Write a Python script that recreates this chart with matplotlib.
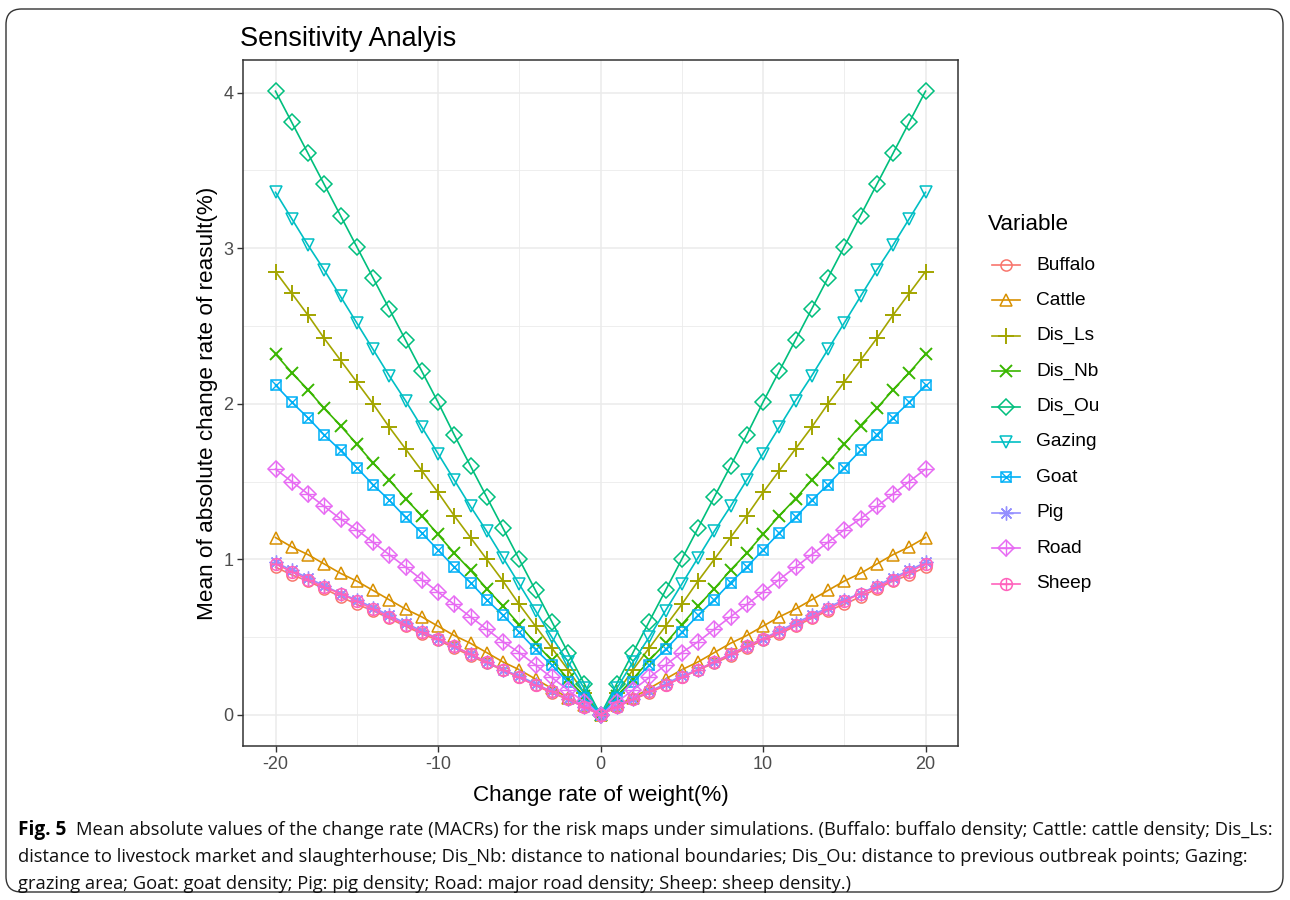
import matplotlib
matplotlib.use("Agg")
import matplotlib.pyplot as plt
from matplotlib.lines import Line2D
from matplotlib.patches import FancyBboxPatch
from matplotlib import font_manager

# ---------------- data ----------------
change_rate = list(range(-20, 21))

variables = ["Buffalo", "Cattle", "Dis_Ls", "Dis_Nb", "Dis_Ou",
             "Gazing", "Goat", "Pig", "Road", "Sheep"]

buffalo = [0.95, 0.90, 0.86, 0.81, 0.76, 0.71, 0.67, 0.62, 0.57, 0.52, 0.48, 0.43, 0.38, 0.33, 0.29, 0.24, 0.19, 0.14, 0.10, 0.05,
           0.00,
           0.05, 0.10, 0.14, 0.19, 0.24, 0.29, 0.33, 0.38, 0.43, 0.48, 0.52, 0.57, 0.62, 0.67, 0.71, 0.76, 0.81, 0.86, 0.90, 0.95]
cattle = [1.14, 1.08, 1.03, 0.97, 0.91, 0.86, 0.80, 0.74, 0.68, 0.63, 0.57, 0.51, 0.46, 0.40, 0.34, 0.29, 0.23, 0.17, 0.11, 0.06,
          0.00,
          0.06, 0.11, 0.17, 0.23, 0.29, 0.34, 0.40, 0.46, 0.51, 0.57, 0.63, 0.68, 0.74, 0.80, 0.86, 0.91, 0.97, 1.03, 1.08, 1.14]
dis_ls = [2.85, 2.71, 2.57, 2.42, 2.28, 2.14, 2.00, 1.85, 1.71, 1.57, 1.43, 1.28, 1.14, 1.00, 0.86, 0.71, 0.57, 0.43, 0.29, 0.14,
          0.00,
          0.14, 0.29, 0.43, 0.57, 0.71, 0.86, 1.00, 1.14, 1.28, 1.43, 1.57, 1.71, 1.85, 2.00, 2.14, 2.28, 2.42, 2.57, 2.71, 2.85]
dis_nb = [2.32, 2.20, 2.09, 1.97, 1.86, 1.74, 1.62, 1.51, 1.39, 1.28, 1.16, 1.04, 0.93, 0.81, 0.70, 0.58, 0.46, 0.35, 0.23, 0.12,
          0.00,
          0.12, 0.23, 0.35, 0.46, 0.58, 0.70, 0.81, 0.93, 1.04, 1.16, 1.28, 1.39, 1.51, 1.62, 1.74, 1.86, 1.97, 2.09, 2.20, 2.32]
dis_ou = [4.01, 3.81, 3.61, 3.41, 3.21, 3.01, 2.81, 2.61, 2.41, 2.21, 2.01, 1.80, 1.60, 1.40, 1.20, 1.00, 0.80, 0.60, 0.40, 0.20,
          0.00,
          0.20, 0.40, 0.60, 0.80, 1.00, 1.20, 1.40, 1.60, 1.80, 2.01, 2.21, 2.41, 2.61, 2.81, 3.01, 3.21, 3.41, 3.61, 3.81, 4.01]
gazing = [3.36, 3.19, 3.02, 2.86, 2.69, 2.52, 2.35, 2.18, 2.02, 1.85, 1.68, 1.51, 1.34, 1.18, 1.01, 0.84, 0.67, 0.50, 0.34, 0.17,
          0.00,
          0.17, 0.34, 0.50, 0.67, 0.84, 1.01, 1.18, 1.34, 1.51, 1.68, 1.85, 2.02, 2.18, 2.35, 2.52, 2.69, 2.86, 3.02, 3.19, 3.36]
goat = [2.12, 2.01, 1.91, 1.80, 1.70, 1.59, 1.48, 1.38, 1.27, 1.17, 1.06, 0.95, 0.85, 0.74, 0.64, 0.53, 0.42, 0.32, 0.21, 0.11,
        0.00,
        0.11, 0.21, 0.32, 0.42, 0.53, 0.64, 0.74, 0.85, 0.95, 1.06, 1.17, 1.27, 1.38, 1.48, 1.59, 1.70, 1.80, 1.91, 2.01, 2.12]
pig = [0.98, 0.93, 0.88, 0.83, 0.78, 0.74, 0.69, 0.64, 0.59, 0.54, 0.49, 0.44, 0.39, 0.34, 0.29, 0.25, 0.20, 0.15, 0.10, 0.05,
       0.00,
       0.05, 0.10, 0.15, 0.20, 0.25, 0.29, 0.34, 0.39, 0.44, 0.49, 0.54, 0.59, 0.64, 0.69, 0.74, 0.78, 0.83, 0.88, 0.93, 0.98]
road = [1.58, 1.50, 1.42, 1.34, 1.26, 1.19, 1.11, 1.03, 0.95, 0.87, 0.79, 0.71, 0.63, 0.55, 0.47, 0.40, 0.32, 0.24, 0.16, 0.08,
        0.00,
        0.08, 0.16, 0.24, 0.32, 0.40, 0.47, 0.55, 0.63, 0.71, 0.79, 0.87, 0.95, 1.03, 1.11, 1.19, 1.26, 1.34, 1.42, 1.50, 1.58]
sheep = [0.97, 0.92, 0.87, 0.82, 0.78, 0.73, 0.68, 0.63, 0.58, 0.53, 0.49, 0.44, 0.39, 0.34, 0.29, 0.24, 0.19, 0.15, 0.10, 0.05,
         0.00,
         0.05, 0.10, 0.15, 0.19, 0.24, 0.29, 0.34, 0.39, 0.44, 0.49, 0.53, 0.58, 0.63, 0.68, 0.73, 0.78, 0.82, 0.87, 0.92, 0.97]

series = [buffalo, cattle, dis_ls, dis_nb, dis_ou, gazing, goat, pig, road, sheep]

x_ticks = [-20, -10, 0, 10, 20]
y_ticks = [0, 1, 2, 3, 4]

title = "Sensitivity Analyis"
x_label = "Change rate of weight(%)"
y_label = "Mean of absolute change rate of reasult(%)"
legend_title = "Variable"
caption_bold = "Fig. 5"
caption_lines = [
    "Mean absolute values of the change rate (MACRs) for the risk maps under simulations. (Buffalo: buffalo density; Cattle: cattle density; Dis_Ls:",
    "distance to livestock market and slaughterhouse; Dis_Nb: distance to national boundaries; Dis_Ou: distance to previous outbreak points; Gazing:",
    "grazing area; Goat: goat density; Pig: pig density; Road: major road density; Sheep: sheep density.)",
]

# ---------------- styles ----------------
colors = ["#F8766D", "#D89000", "#A3A500", "#39B600", "#00BF7D",
          "#00BFC4", "#00B0F6", "#9590FF", "#E76BF3", "#FF62BC"]
# (marker, size, edge width) ; optional second overlay marker
markers = [
    [("o", 8, 1.1)],
    [("^", 9, 1.1)],
    [("+", 12, 1.4)],
    [("x", 8.5, 1.4)],
    [("D", 8, 1.1)],
    [("v", 9, 1.1)],
    [("s", 7.5, 1.1), ("x", 7.0, 1.0)],
    [((8, 2, 0), 10, 1.0)],
    [("D", 8, 1.1), ("+", 11.3, 1.0)],
    [("o", 8.5, 1.1), ("+", 8.5, 1.0)],
]

W, H = 1290, 900


def fx(px):
    return px / W


def fy(py):
    return 1 - py / H


def pick_font(names):
    for n in names:
        try:
            font_manager.findfont(n, fallback_to_default=False)
            return n
        except Exception:
            pass
    return "DejaVu Sans"


main_font = pick_font(["Liberation Sans", "Arial", "DejaVu Sans"])
cap_font = pick_font(["Liberation Sans Narrow", "Open Sans", "Roboto", "Liberation Sans"])
plt.rcParams["font.family"] = [main_font, "DejaVu Sans"]
plt.rcParams["axes.unicode_minus"] = False

fig = plt.figure(figsize=(W / 100, H / 100), dpi=100)
fig.patch.set_facecolor("white")

# outer rounded frame
frame = FancyBboxPatch((fx(6), fy(892)), fx(1283) - fx(6), fy(9) - fy(892),
                       boxstyle="round,pad=0,rounding_size=0.012",
                       transform=fig.transFigure, facecolor="none",
                       edgecolor="#333333", linewidth=1.0, mutation_aspect=W / H)
fig.add_artist(frame)

ax = fig.add_axes([fx(243), fy(746), fx(958) - fx(243), fy(60) - fy(746)])
ax.set_xlim(-22.0, 22.0)
ax.set_ylim(-0.2005, 4.2105)

ax.set_xticks(x_ticks)
ax.set_yticks(y_ticks)
ax.set_xticks([-15, -5, 5, 15], minor=True)
ax.set_yticks([0.5, 1.5, 2.5, 3.5], minor=True)
ax.grid(True, which="major", color="#EBEBEB", linewidth=1.1)
ax.grid(True, which="minor", color="#EBEBEB", linewidth=0.6)
ax.set_axisbelow(True)
for s in ax.spines.values():
    s.set_color("#333333")
    s.set_linewidth(1.1)
ax.tick_params(which="major", length=4, width=1.0, color="#333333",
               labelsize=13, labelcolor="#4D4D4D", pad=3)
ax.tick_params(which="minor", length=0)

for i, (name, vals) in enumerate(zip(variables, series)):
    c = colors[i]
    m0 = markers[i][0]
    ax.plot(change_rate, vals, color=c, linewidth=1.2, marker=m0[0],
            markersize=m0[1], markeredgewidth=m0[2], markerfacecolor="none",
            markeredgecolor=c, zorder=3 + i)
    for m in markers[i][1:]:
        ax.plot(change_rate, vals, linestyle="none", marker=m[0],
                markersize=m[1], markeredgewidth=m[2], markerfacecolor="none",
                markeredgecolor=c, zorder=3 + i)

ax.set_xlabel(x_label, fontsize=16.2, color="black", labelpad=9)
ax.set_ylabel(y_label, fontsize=16.2, color="black", labelpad=4)
fig.text(fx(240), fy(39), title, fontsize=19.5, color="black",
         ha="left", va="center")

# legend (drawn manually in figure space)
fig.text(fx(988), fy(225), legend_title, fontsize=16.2, ha="left", va="center")
leg_y0, leg_dy = 265, 35.4
for i, name in enumerate(variables):
    yy = fy(leg_y0 + i * leg_dy)
    c = colors[i]
    fig.add_artist(Line2D([fx(992), fx(1020)], [yy, yy], color=c, linewidth=1.2,
                          transform=fig.transFigure))
    for m in markers[i]:
        fig.add_artist(Line2D([fx(1006)], [yy], linestyle="none", marker=m[0],
                              markersize=m[1], markeredgewidth=m[2],
                              markerfacecolor="none", markeredgecolor=c,
                              transform=fig.transFigure))
    fig.text(fx(1036), yy, name, fontsize=13.8, ha="left", va="center")

# caption
renderer = fig.canvas.get_renderer()
cap_size = 13.2
t = fig.text(fx(18), fy(830), caption_bold, fontsize=cap_size + 0.5,
             fontweight="bold", family=[cap_font, "DejaVu Sans"],
             ha="left", va="center")
bw = t.get_window_extent(renderer).width
line_y = [830, 857, 884]
for k, ln in enumerate(caption_lines):
    x0 = 18 + (bw + 10 if k == 0 else 0)
    fig.text(fx(x0), fy(line_y[k]), ln, fontsize=cap_size,
             family=[cap_font, "DejaVu Sans"], ha="left", va="center",
             color="#111111")

fig.savefig("out.png", dpi=100, facecolor="white")
